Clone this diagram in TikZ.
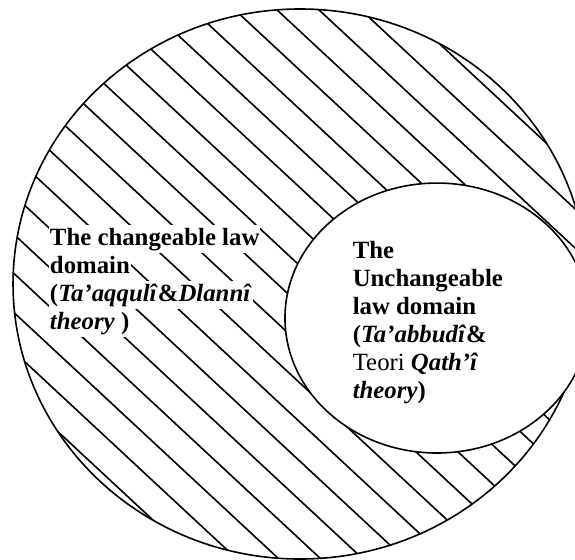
\documentclass[tikz,border=0pt]{standalone}
\usepackage{fontspec}
\setmainfont{Liberation Serif}
\usetikzlibrary{positioning}

\tikzset{
  rowtext/.style={font=\fontsize{12.4}{14}\selectfont\bfseries, fill=white,
                  inner sep=0.5pt, outer sep=0pt, text height=9.5pt, text depth=3.5pt},
  hatch/.style={line width=0.8pt},
}

\begin{document}
\begin{tikzpicture}[line width=0.8pt]
  \useasboundingbox (0,0) rectangle (10.105,9.824);

  % hatching of the changeable domain
  \begin{scope}
    \clip (5.272,4.833) ellipse [x radius=5.043, y radius=4.833];
    \foreach \k in {0,...,19}
      \draw[hatch] (-1,{17.168-0.687*\k}) -- ++(12,-11.16);
  \end{scope}

  % outer and inner domain
  \draw (5.272,4.833) ellipse [x radius=5.043, y radius=4.833];
  \draw[fill=white] (7.679,4.235) ellipse [x radius=2.671, y radius=2.372];

  % changeable law domain, one row at a time so the hatching shows between words
  \node[rowtext, anchor=base west] (chg1) at (0.861,5.518) {The changeable law};
  \node[rowtext, below right=0pt and 0pt of chg1.south west] (chg2) {domain};
  \node[rowtext, below right=0pt and 0pt of chg2.south west] (chg3)
       {(\textit{Ta’aqqulî}\&\textit{Dlannî}};
  \node[rowtext, below right=0pt and 0pt of chg3.south west] (chg4) {\textit{theory} )};

  % unchangeable law domain (base is the last row)
  \node[font=\fontsize{12.4}{14}\selectfont\bfseries, align=left, anchor=base west,
        inner sep=0pt] (unchg) at (6.186,2.829)
       {The\\Unchangeable\\law domain\\(\textit{Ta’abbudî}\&\\
        \textmd{Teori} \textit{Qath’î}\\\textit{theory})};
\end{tikzpicture}
\end{document}
